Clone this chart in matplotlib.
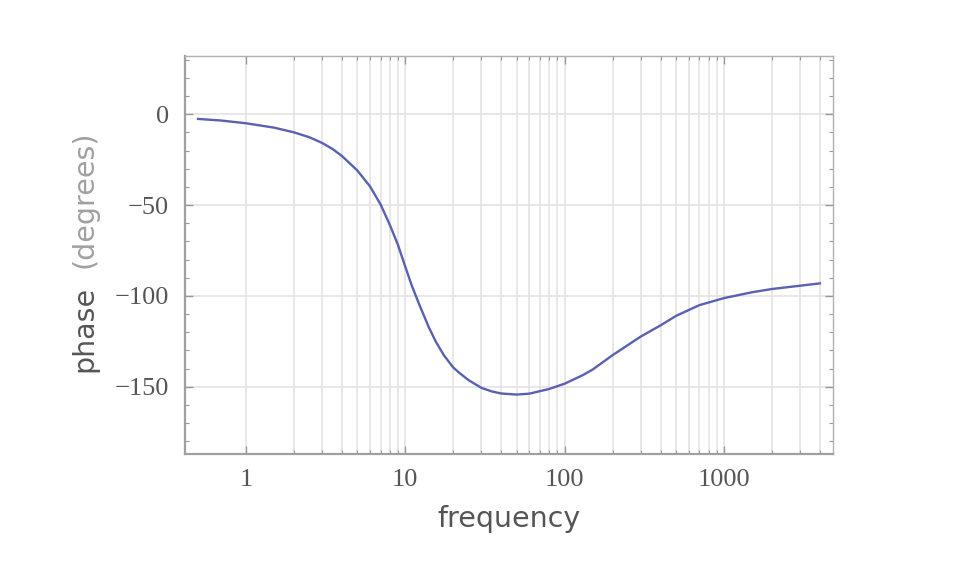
import matplotlib
matplotlib.use('Agg')
import matplotlib.pyplot as plt
from matplotlib.ticker import FixedLocator, MultipleLocator, NullFormatter

# values
freq = [0.5, 0.7, 1, 1.5, 2, 2.5, 3, 3.5, 4, 5, 6, 7, 8, 9, 10, 11, 12.4,
        14, 15.5, 17.5, 20, 22, 25, 30, 35, 40, 50, 60, 80, 100, 130, 150,
        200, 300, 400, 500, 700, 1000, 1500, 2000, 3000, 4000]
phase = [-2.6, -3.5, -5.0, -7.4, -10.0, -12.7, -15.8, -19.2, -23.0, -31.0,
         -39.7, -49.7, -61.0, -72.0, -84.0, -94.5, -106.0, -117.0, -125.0,
         -132.8, -139.4, -142.6, -146.4, -150.6, -152.6, -153.7, -154.3,
         -153.8, -151.2, -148.3, -143.6, -140.5, -132.6, -122.4, -116.2,
         -111.0, -105.1, -101.2, -98.0, -96.2, -94.4, -93.1]

x_ticks = [1, 10, 100, 1000]
x_tick_labels = ['1', '10', '100', '1000']
x_minor = [m * 10 ** e for e in range(0, 4) for m in range(2, 10)]
y_ticks = [0, -50, -100, -150]
y_tick_labels = ['0', '\u221250', '\u2212100', '\u2212150']


def main():
    fig = plt.figure(figsize=(9.61, 5.70), dpi=100)
    ax = fig.add_axes([0.1930, 0.2035, 0.6733, 0.6982])

    ax.plot(freq, phase, '-', color='#5a60b2', lw=1.7, zorder=3,
            solid_joinstyle='round')

    ax.set_xscale('log')
    ax.set_xlim(0.417, 4800)
    ax.set_ylim(-187, 32)

    # grid: every 1..9 multiple from 1 upward on x, majors only on y
    ax.xaxis.set_major_locator(FixedLocator(x_ticks))
    ax.xaxis.set_minor_locator(FixedLocator(x_minor))
    ax.xaxis.set_minor_formatter(NullFormatter())
    ax.set_xticklabels(x_tick_labels)
    ax.yaxis.set_major_locator(FixedLocator(y_ticks))
    ax.yaxis.set_minor_locator(MultipleLocator(10))
    ax.set_yticklabels(y_tick_labels)

    ax.grid(True, which='major', color='#e2e2e2', lw=1.1, zorder=0)
    ax.grid(True, which='minor', axis='x', color='#e2e2e2', lw=1.1, zorder=0)

    ax.tick_params(which='both', direction='in', top=True, right=True,
                   color='#999999', labelcolor='#555555')
    ax.tick_params(which='major', length=6, width=1)
    ax.tick_params(which='minor', length=3, width=0.8)
    ax.tick_params(axis='x', pad=11)
    ax.tick_params(axis='y', pad=12)
    for lab in ax.get_xticklabels() + ax.get_yticklabels():
        lab.set_fontfamily('Liberation Serif')
        lab.set_fontsize(19)

    for side in ['left', 'bottom']:
        ax.spines[side].set_color('#a0a0a0')
        ax.spines[side].set_linewidth(1.6)
    for side in ['top', 'right']:
        ax.spines[side].set_color('#b0b0b0')
        ax.spines[side].set_linewidth(1.0)

    ax.set_xlabel('frequency', fontsize=20.5, color='#555555',
                  family='DejaVu Sans', labelpad=10)

    fig.text(0.088, 1 - 372 / 570, 'phase', rotation=90, ha='center',
             va='bottom', fontsize=20.5, color='#555555',
             family='DejaVu Sans')
    fig.text(0.088, 1 - 130 / 570, '(degrees)', rotation=90, ha='center',
             va='top', fontsize=20.5, color='#a0a0a0', family='DejaVu Sans')

    plt.savefig('out.png', dpi=100)


if __name__ == '__main__':
    main()
